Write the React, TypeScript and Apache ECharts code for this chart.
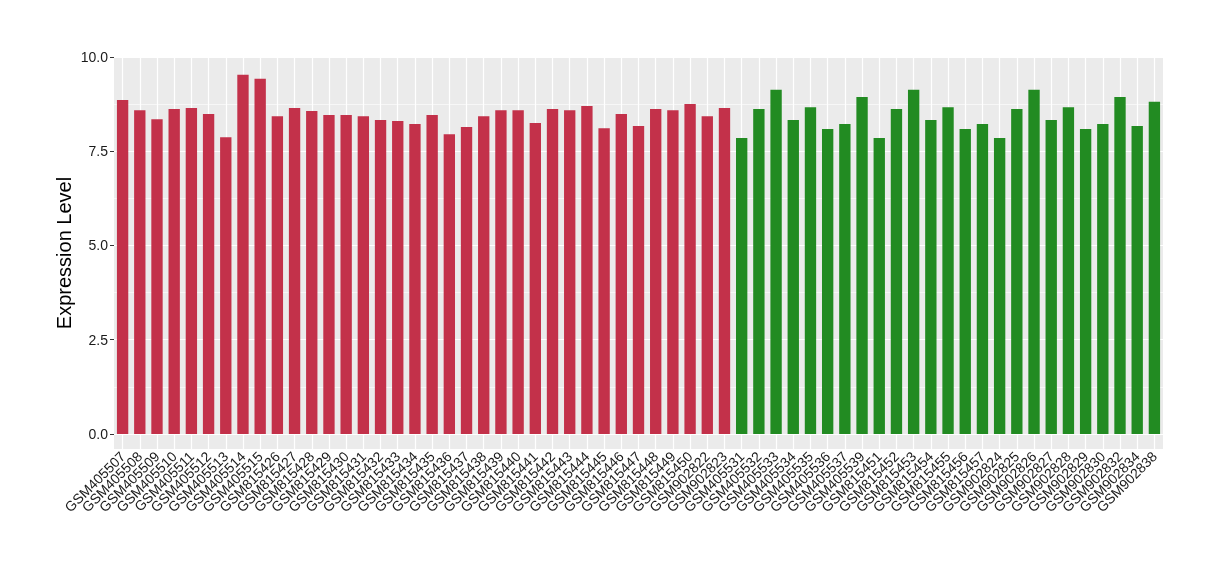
import React, { useEffect, useRef } from "react";
import * as echarts from "echarts";

const redSamples: string[] = [
  "GSM405507", "GSM405508", "GSM405509", "GSM405510", "GSM405511", "GSM405512",
  "GSM405513", "GSM405514", "GSM405515", "GSM815426", "GSM815427", "GSM815428",
  "GSM815429", "GSM815430", "GSM815431", "GSM815432", "GSM815433", "GSM815434",
  "GSM815435", "GSM815436", "GSM815437", "GSM815438", "GSM815439", "GSM815440",
  "GSM815441", "GSM815442", "GSM815443", "GSM815444", "GSM815445", "GSM815446",
  "GSM815447", "GSM815448", "GSM815449", "GSM815450", "GSM902822", "GSM902823",
];
const redValues: number[] = [
  8.86, 8.59, 8.35, 8.62, 8.65, 8.49, 7.87, 9.53, 9.42, 8.43, 8.65, 8.57,
  8.46, 8.46, 8.43, 8.33, 8.30, 8.22, 8.46, 7.95, 8.14, 8.43, 8.59, 8.59,
  8.25, 8.62, 8.59, 8.70, 8.11, 8.49, 8.17, 8.62, 8.59, 8.75, 8.43, 8.65,
];
const greenSamples: string[] = [
  "GSM405531", "GSM405532", "GSM405533", "GSM405534", "GSM405535", "GSM405536",
  "GSM405537", "GSM405539", "GSM815451", "GSM815452", "GSM815453", "GSM815454",
  "GSM815455", "GSM815456", "GSM815457", "GSM902824", "GSM902825", "GSM902826",
  "GSM902827", "GSM902828", "GSM902829", "GSM902830", "GSM902832", "GSM902834",
  "GSM902838",
];
const greenValues: number[] = [
  7.85, 8.62, 9.13, 8.33, 8.67, 8.09, 8.22, 8.94, 7.85, 8.62, 9.13, 8.33,
  8.67, 8.09, 8.22, 7.85, 8.62, 9.13, 8.33, 8.67, 8.09, 8.22, 8.94, 8.17,
  8.81,
];
const yTicks: number[] = [0, 2.5, 5, 7.5, 10];
const yMinorTicks: number[] = [1.25, 3.75, 6.25, 8.75];

const RED = "#C3314A";
const GREEN = "#228B22";
const FONT = "'Liberation Sans', Arial, Helvetica, sans-serif";

export default function App() {
  const ref = useRef<HTMLDivElement>(null);
  useEffect(() => {
    if (!ref.current) return;
    const chart = echarts.init(ref.current, undefined, { renderer: "svg" });
    const categories = [...redSamples, ...greenSamples];
    const data = [
      ...redValues.map((v) => ({ value: v, itemStyle: { color: RED } })),
      ...greenValues.map((v) => ({ value: v, itemStyle: { color: GREEN } })),
    ];
    const gridLines = [
      ...yTicks.map((t) => ({ yAxis: t, lineStyle: { width: 1.2 } })),
      ...yMinorTicks.map((t) => ({ yAxis: t, lineStyle: { width: 0.6 } })),
      ...categories.map((c) => ({ xAxis: c, lineStyle: { width: 1.2 } })),
    ];
    chart.setOption({
      animation: false,
      textStyle: { fontFamily: FONT },
      grid: {
        left: 114,
        right: 57,
        top: 57,
        bottom: 131,
        show: true,
        backgroundColor: "#EBEBEB",
        borderWidth: 0,
      },
      xAxis: {
        type: "category",
        data: categories,
        boundaryGap: true,
        axisLine: { show: false },
        axisTick: { show: true, alignWithLabel: true, length: 4, lineStyle: { color: "#333" } },
        axisLabel: {
          rotate: 45,
          interval: 0,
          fontSize: 14,
          color: "#1a1a1a",
          margin: 5,
          fontFamily: FONT,
        },
        splitLine: { show: false },
      },
      yAxis: {
        type: "value",
        min: -0.4,
        max: 10,
        name: "Expression Level",
        nameLocation: "middle",
        nameGap: 40,
        nameMoveOverlap: false,
        nameTextStyle: { fontSize: 20, color: "#000", fontFamily: FONT },
        axisLine: { show: false },
        axisTick: { show: true, length: 4, customValues: yTicks, lineStyle: { color: "#333" } },
        axisLabel: {
          customValues: yTicks,
          formatter: (v: number) => v.toFixed(1),
          fontSize: 14,
          color: "#1a1a1a",
          margin: 6,
          fontFamily: FONT,
        },
        splitLine: { show: false },
      },
      series: [
        {
          type: "line",
          data: [],
          z: 1,
          silent: true,
          markLine: {
            silent: true,
            z: 1,
            symbol: ["none", "none"],
            label: { show: false },
            lineStyle: { color: "#FFFFFF", type: "solid" },
            emphasis: { disabled: true },
            data: gridLines,
          },
        },
        {
          type: "bar",
          data,
          barWidth: "66%",
          z: 3,
        },
      ],
    });
    return () => chart.dispose();
  }, []);
  return (
    <div
      ref={ref}
      style={{ position: "fixed", left: 0, top: 0, width: 1220, height: 580 }}
    />
  );
}
